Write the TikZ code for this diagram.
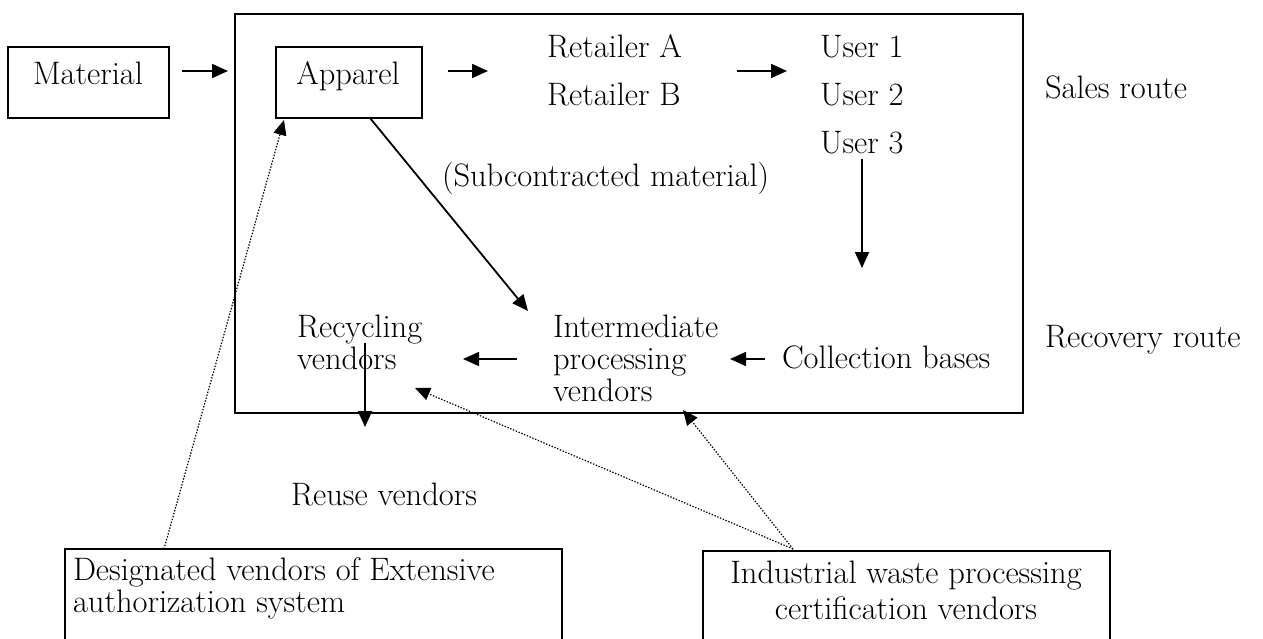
\documentclass[tikz,border=0pt]{standalone}
\usetikzlibrary{arrows.meta}
\begin{document}
\begin{tikzpicture}[x=1pt,y=-1pt,
  every node/.style={font=\fontsize{32.5}{32}\selectfont, inner sep=0pt, outer sep=0pt},
  box/.style={draw, line width=1.8pt, anchor=north west},
  lbl/.style={anchor=base west},
  ml/.style={anchor=north west, align=left},
  arr/.style={line width=1.8pt, -{Triangle[length=16pt,width=14pt]}},
  dotarr/.style={line width=1.2pt, dash pattern=on 1.4pt off 1.6pt, -{Triangle[length=15pt,width=13pt]}}]
\useasboundingbox (0,0) rectangle (1263,639);

% boxes
\node[box, minimum width=161pt, minimum height=71pt] (mat) at (8,47) {};
\node[box, minimum width=788pt, minimum height=399pt] (main) at (235,14) {};
\node[box, minimum width=146pt, minimum height=71pt] (app) at (276,47) {};
\node[box, minimum width=497pt, minimum height=100pt] (desig) at (65,549) {};
\node[box, minimum width=407pt, minimum height=100pt] (indus) at (703,551) {};

% texts
\node[anchor=base] (matT) at (88,85) {Material};
\node[anchor=base] (appT) at (348,85) {Apparel};
\node[lbl] (retA) at (547,58) {Retailer A};
\node[lbl] (retB) at (547,106) {Retailer B};
\node[lbl] (u1) at (820,58) {User 1};
\node[lbl] (u2) at (820,106) {User 2};
\node[lbl] (u3) at (820,154) {User 3};
\node[lbl] (sub) at (442,186) {(Subcontracted material)};
\node[lbl] (sales) at (1045,99) {Sales route};
\node[lbl] (recov) at (1045,347) {Recovery route};
\node[lbl] (coll) at (782,368) {Collection bases};
\node[ml] (inter) at (553,315) {Intermediate\\processing\\vendors};
\node[ml] (recyc) at (297,315) {Recycling\\vendors};
\node[lbl] (reuse) at (291,505) {Reuse vendors};
\node[ml] (desigT) at (73,558) {Designated vendors of Extensive\\authorization system};
\node[anchor=north, align=center, font=\fontsize{32.5}{36}\selectfont] (indusT) at (906,561) {Industrial waste processing\\certification vendors};

% connector end points
\coordinate (m1) at (182,71);  \coordinate (m2) at (228,71);
\coordinate (a1) at (448,71);  \coordinate (a2) at (488,71);
\coordinate (r1) at (737,71);  \coordinate (r2) at (787,71);
\coordinate (v1) at (862,159); \coordinate (v2) at (862,268);
\coordinate (c1) at (765,359); \coordinate (c2) at (730,359);
\coordinate (i1) at (517,359); \coordinate (i2) at (463,359);
\coordinate (y1) at (365,343); \coordinate (y2) at (365,427);
\coordinate (p1) at (370,118); \coordinate (p2) at (528,311);
\coordinate (d1) at (164,549); \coordinate (d2) at (284,120);
\coordinate (k0) at (793,549);
\coordinate (k1) at (415,388); \coordinate (k2) at (683,410);

% solid arrows
\draw[arr] (m1) -- (m2);
\draw[arr] (a1) -- (a2);
\draw[arr] (r1) -- (r2);
\draw[arr] (v1) -- (v2);
\draw[arr] (c1) -- (c2);
\draw[arr] (i1) -- (i2);
\draw[arr] (y1) -- (y2);
\draw[arr] (p1) -- (p2);

% dotted arrows
\draw[dotarr] (d1) -- (d2);
\draw[dotarr] (k0) -- (k1);
\draw[dotarr] (k0) -- (k2);
\end{tikzpicture}
\end{document}
